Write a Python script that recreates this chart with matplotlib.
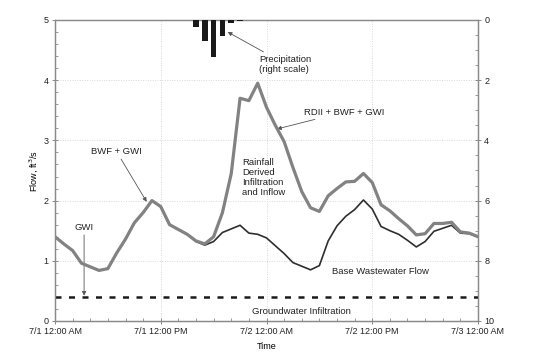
import matplotlib
matplotlib.use("Agg")
import matplotlib.pyplot as plt
from matplotlib.ticker import MultipleLocator

plt.rcParams['font.family'] = ['Liberation Sans', 'DejaVu Sans']

# ---- data ----
hours = list(range(0, 49))
total_flow = [1.40, 1.28, 1.17, 0.96, 0.90, 0.84, 0.87, 1.13, 1.36, 1.63,
              1.80, 2.00, 1.90, 1.60, 1.52, 1.44, 1.33, 1.28, 1.40, 1.80,
              2.45, 3.70, 3.66, 3.95, 3.55, 3.25, 2.98, 2.55, 2.15, 1.88,
              1.82, 2.08, 2.20, 2.31, 2.32, 2.45, 2.30, 1.93, 1.83, 1.70,
              1.58, 1.43, 1.45, 1.62, 1.62, 1.64, 1.48, 1.46, 1.40]
base_flow = [1.40, 1.28, 1.17, 0.96, 0.90, 0.84, 0.87, 1.13, 1.36, 1.63,
             1.80, 2.00, 1.90, 1.60, 1.52, 1.44, 1.32, 1.26, 1.32, 1.47,
             1.53, 1.59, 1.46, 1.44, 1.38, 1.25, 1.12, 0.97, 0.91, 0.85,
             0.92, 1.33, 1.58, 1.74, 1.85, 2.01, 1.86, 1.57, 1.50, 1.44,
             1.34, 1.23, 1.32, 1.49, 1.54, 1.59, 1.46, 1.45, 1.40]
gwi_level = 0.4
rain_hours = [16, 17, 18, 19, 20, 21]
rain_depth = [0.24, 0.69, 1.22, 0.52, 0.11, 0.05]
xtick_hours = [0, 12, 24, 36, 48]
xtick_labels = ["7/1 12:00 AM", "7/1 12:00 PM", "7/2 12:00 AM",
                "7/2 12:00 PM", "7/3 12:00 AM"]

# ---- figure ----
fig = plt.figure(figsize=(5.33, 3.52), dpi=100)
ax = fig.add_axes([0.1032, 0.0881, 0.7936, 0.8551])
spine_c = '#8a8a8a'
fs = 6.5
afs = 6.8

ax.plot(hours, base_flow, color='#2e2e2e', lw=1.2, zorder=3,
        solid_joinstyle='round')
ax.plot(hours, total_flow, color='#828282', lw=2.3, zorder=4,
        solid_joinstyle='round', solid_capstyle='round')
ax.plot([hours[0], hours[-1]], [gwi_level, gwi_level], color='#1a1a1a',
        lw=1.8, dashes=(2.4, 3.0), zorder=3)

ax.set_xlim(0, 48)
ax.set_ylim(0, 5)
ax.set_xticks(xtick_hours)
ax.set_xticklabels(xtick_labels)
ax.xaxis.set_minor_locator(MultipleLocator(2))
ax.yaxis.set_major_locator(MultipleLocator(1))
ax.yaxis.set_minor_locator(MultipleLocator(0.2))
ax.grid(True, which='major', color='#d8d8d8', ls=(0, (1, 1.5)), lw=0.7)
ax.set_axisbelow(True)
ax.set_ylabel("Flow, ft$^3$/s", fontsize=fs, labelpad=3)
ax.set_xlabel("Time", fontsize=fs, labelpad=4)

ax2 = ax.twinx()
ax2.bar(rain_hours, rain_depth, width=0.65, bottom=0, color='#1a1a1a', zorder=5)
ax2.set_ylim(10, 0)
ax2.yaxis.set_major_locator(MultipleLocator(2))
ax2.yaxis.set_minor_locator(MultipleLocator(0.5))

for a in (ax, ax2):
    for s in a.spines.values():
        s.set_color(spine_c)
        s.set_linewidth(0.9)
    a.tick_params(which='major', direction='inout', length=5, width=0.7,
                  color=spine_c, labelsize=fs, pad=2, labelcolor='#222222')
    a.tick_params(which='minor', direction='in', length=2.5, width=0.6,
                  color=spine_c)

txt = dict(fontsize=afs, color='#222222')
arr = dict(arrowstyle='-|>', color='#555555', lw=0.6, mutation_scale=6,
           shrinkA=0, shrinkB=0)

ax2.annotate("Precipitation\n(right scale)", xy=(19.6, 0.4), xytext=(23.2, 1.15),
             ha='left', va='top', arrowprops=arr, **txt, linespacing=1.15)
ax.annotate("RDII + BWF + GWI", xy=(25.2, 3.19), xytext=(28.2, 3.47),
            ha='left', va='center', arrowprops=arr, **txt)
ax.text(21.2, 2.70, "Rainfall\nDerived\nInfiltration\nand Inflow",
        ha='left', va='top', linespacing=1.1, **txt)
ax.annotate("BWF + GWI", xy=(10.4, 1.98), xytext=(7.0, 2.81),
            ha='center', va='center', arrowprops=arr, **txt)
ax.annotate("GWI", xy=(3.3, 0.42), xytext=(3.3, 1.55),
            ha='center', va='center', arrowprops=arr, **txt)
ax.text(31.4, 0.82, "Base Wastewater Flow", ha='left', va='center', **txt)
ax.text(22.3, 0.155, "Groundwater Infiltration", ha='left', va='center', **txt)

fig.savefig("out.png", dpi=100)
